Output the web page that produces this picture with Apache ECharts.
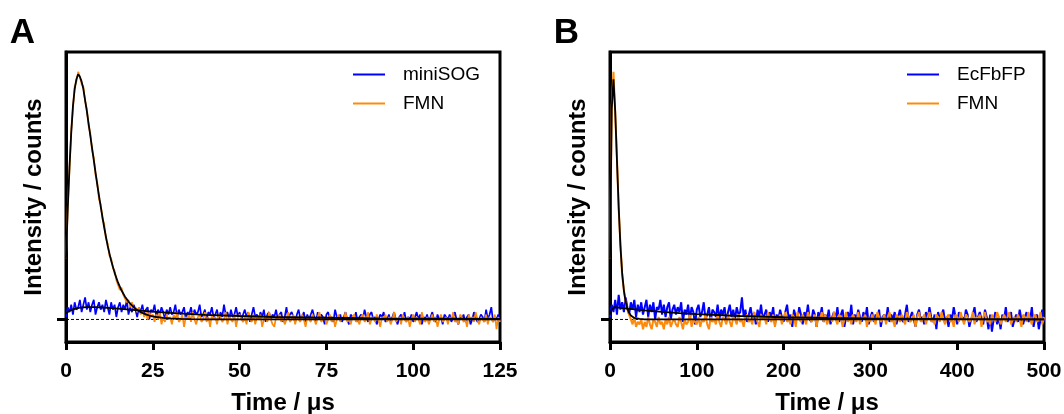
<!DOCTYPE html>
<html>
<head>
<meta charset="utf-8">
<script src="https://cdn.jsdelivr.net/npm/echarts@6/dist/echarts.min.js"></script>
<style>html,body{margin:0;padding:0;background:#fff}#c{width:1064px;height:414px}</style>
</head>
<body>
<div id="c"></div>
<script>
// ---------- DATA ----------
// Panel A sampling (μs)
const stepA = 0.5;
// Panel B sampling (μs)
const stepB = 2;

// Panel A: FMN raw trace (counts, arbitrary units), t = 0 .. 125 μs
const fmnA = [
 25,46,61,77,86,95,97,101,99,96,
 95,89,86,79,76,69,66,59,56,49,
 47,41,39,33,31,26,25,21,20,16,
 16,12,13,10,10,7,8,5,7,4,
 5,3,5,2,4,1,3,0,3,1,
 2,-1,2,0,3,-2,1,-1,2,0,
 1,-2,2,0,3,-1,0,2,-3,1,
 0,2,-1,3,0,-2,1,2,-1,0,
 3,-1,1,-3,2,0,1,-2,2,1,
 -1,0,3,-2,1,0,-1,2,-3,1,
 2,0,-1,1,-2,3,0,-1,2,-2,
 1,0,2,-3,0,1,-1,3,0,-2,
 -3,1,0,2,-1,1,-2,0,3,-1,
 0,2,-2,1,0,-1,2,0,-3,1,
 1,-1,2,0,-2,1,3,-1,0,1,
 -2,0,2,-1,1,-3,0,2,-1,1,
 0,3,-1,0,-2,1,2,-1,0,-2,
 1,2,-1,0,3,-2,0,1,-1,2,
 0,-3,1,0,2,-1,1,-2,0,3,
 -1,0,1,-2,2,0,-1,1,-3,0,
 2,-1,1,0,-2,3,0,-1,1,-2,
 0,2,-1,1,-3,0,2,-1,0,1,
 -2,1,0,3,-1,0,-2,2,1,-1,
 0,-3,2,0,1,-1,3,0,-2,1,
 0,-1,2,-2,1,0,-1,2,-4,1,-1
];
// Panel A: miniSOG raw trace
const miniSOG = [
 1,5,3,6,2,7,4,5,8,3,
 6,9,4,7,3,6,8,2,5,7,
 4,6,3,8,5,2,7,4,6,1,
 5,7,3,6,4,8,2,5,3,6,
 4,1,5,3,6,2,4,5,0,4,
 3,6,1,4,2,5,3,0,4,2,
 5,2,3,6,1,4,2,3,5,0,
 3,2,5,1,4,2,3,6,1,2,
 4,0,3,2,5,1,2,4,0,3,
 1,6,2,3,0,4,1,2,5,1,
 3,0,2,4,1,3,-1,2,5,1,
 2,0,3,1,4,-1,2,3,0,2,
 1,4,0,2,3,-1,1,5,0,2,
 3,1,-1,2,4,0,1,3,-1,2,
 0,2,4,1,-1,3,0,2,1,-2,
 2,3,0,1,-1,4,1,0,2,-1,
 1,3,0,-2,2,1,0,3,-1,1,
 2,0,4,1,-1,2,3,0,1,-2,
 0,2,1,3,-1,0,2,-1,1,3,
 0,-2,1,2,0,3,-1,1,0,2,
 -1,1,3,0,2,-2,1,0,2,-1,
 1,3,0,-1,2,0,1,-2,2,1,
 0,2,-1,1,3,0,-2,1,0,2,
 -1,1,2,-2,0,3,1,-1,0,2,
 1,-1,4,0,2,5,-1,1,0,2,-1
];
// Panel A fits
const fitFmnA_t = [0,0.5,1,1.5,2,2.5,3,3.5,4,4.5,5,6,7,8,9,10,11,12,13,14,15,16,17,18,19,20,21,22,23,24,25,26,28,30,33,36,40,50,125];
const fitFmnA_v = [25,45,62,76,87,94,98,100,99,97,94,85,75,65,55,46,37.5,30,24,19,15,11.8,9.3,7.3,5.7,4.4,3.4,2.7,2.1,1.6,1.3,1.0,0.6,0.4,0.2,0.1,0.05,0,0];
const fitMiniA_t = [0,1,2,4,6,8,10,12,15,20,25,30,35,40,50,60,70,80,90,100,110,125];
const fitMiniA_v = [2.5,3.5,4.1,4.8,5,5,4.9,4.7,4.4,3.8,3.2,2.7,2.3,1.9,1.4,1.0,0.8,0.6,0.45,0.35,0.3,0.2];

// Panel B: FMN raw trace, t = 0 .. 500 μs
const fmnB = [
 25,87,101,84,66,45,31,18,12,7,
 4,2,0,-2,1,-3,-1,-2,0,-4,
 -1,-3,1,-2,-4,0,-1,-3,1,-2,
 -1,-4,0,-2,1,-3,-1,0,-2,-3,
 1,-1,-4,0,-2,-1,2,-3,0,-1,
 -2,1,-3,0,-1,2,-2,-4,1,-1,
 0,-2,2,-1,-3,1,0,-2,2,-1,
 -3,1,0,-2,2,-1,0,-3,1,2,
 -1,0,-2,3,1,-1,-3,2,0,1,
 -2,3,0,-1,2,-3,1,0,2,-2,
 1,3,-1,0,-2,2,1,-3,3,0,
 -1,2,0,-2,3,1,-1,0,2,-3,
 1,0,3,-1,2,-2,0,1,-1,3,
 0,-2,2,1,-3,0,3,-1,1,-2,
 2,0,-1,3,-2,1,0,2,-3,1,
 -1,2,0,-2,3,1,-1,0,2,-2,
 1,3,-1,0,-3,2,1,-1,2,0,
 -2,3,1,-1,0,2,-3,1,3,-1,
 0,2,-2,1,3,-1,0,-2,2,1,
 -1,3,0,-2,1,2,-1,0,-3,2,
 1,-1,3,0,-2,2,1,-1,0,3,
 -2,1,0,2,-3,1,3,-1,0,-2,
 2,0,-1,3,1,-2,0,2,-1,1,
 3,-2,0,1,-1,2,0,-3,2,1,
 -1,3,0,-2,1,2,-1,0,3,-2,1
];
// Panel B: EcFbFP raw trace
const ecFbFP = [
 1,6,3,8,2,10,4,7,3,9,
 5,2,7,4,8,1,6,3,7,2,
 5,8,1,6,3,7,0,5,4,8,
 2,6,1,5,7,0,4,6,2,5,
 3,7,-1,4,2,6,0,5,3,-2,
 4,6,1,3,7,0,2,5,-1,4,
 3,1,6,0,4,2,5,-1,3,6,
 1,4,0,5,2,3,9,1,4,-1,
 2,5,0,3,-2,4,1,6,0,2,
 4,-1,3,1,5,-2,2,0,4,1,
 -1,3,6,0,2,-3,4,1,0,5,
 2,-2,3,1,6,0,-1,4,2,-3,
 3,1,5,-1,2,0,4,-2,1,3,
 0,5,-1,2,4,-3,1,3,0,6,
 -2,2,0,4,1,-1,3,0,5,-2,
 1,3,-1,2,0,4,-3,1,2,0,
 5,-1,2,0,3,-2,1,4,0,-1,
 2,6,-1,1,3,0,-3,2,4,0,
 1,-2,3,0,5,1,-1,2,-4,3,
 0,2,4,-1,1,-3,2,0,5,1,
 -2,3,0,1,-1,4,2,-3,0,2,
 5,-1,1,3,0,-2,4,1,-4,2,
 -5,0,3,-2,1,-4,2,0,5,-1,
 1,3,-3,0,2,-1,4,0,-2,1,
 3,-1,0,5,-3,1,2,-4,0,4,-1
];
// Panel B fits
const fitFmnB_t = [0,2,4,6,8,10,12,14,16,18,20,22,24,26,28,30,34,40,60,500];
const fitFmnB_v = [25,86,98,85,65,46,30,19,11.8,7.3,4.4,2.7,1.6,1.0,0.6,0.4,0.2,0.05,0,0];
const fitEcB_t = [0,2,5,10,20,40,60,80,100,150,200,250,300,400,500];
const fitEcB_v = [2,4,5,4.8,4.4,3.7,3.1,2.6,2.2,1.4,0.9,0.6,0.4,0.15,0.05];

// Axis settings / labels
const xTicksA = {min:0, max:125, interval:25};
const xTicksB = {min:0, max:500, interval:100};
const yRange = {min:-9.2, max:109.1};
const panelLabels = ['A','B'];
const xTitle = 'Time / μs';
const yTitle = 'Intensity / counts';

// ---------- BUILD ----------
const FONT = "'Liberation Sans', Arial, Helvetica, sans-serif";
const BLUE = '#0000ff';
const ORANGE = '#ff8a0a';

function trace(vals, step){ return vals.map((v,i)=>[i*step, v]); }
function pairs(ts, vs){ return ts.map((t,i)=>[t, vs[i]]); }

function lineSeries(name, data, color, width, idx, z){
  return {name, type:'line', xAxisIndex:idx, yAxisIndex:idx, data, symbol:'none', showSymbol:false,
    lineStyle:{color, width}, itemStyle:{color}, z, silent:true, animation:false};
}
function zeroLine(idx, xmax){
  return {type:'line', xAxisIndex:idx, yAxisIndex:idx, data:[[0,0],[xmax,0]], symbol:'none',
    lineStyle:{color:'#000', width:1, type:[3,2]}, z:1, silent:true, animation:false};
}
function xAx(idx, ticks){
  return {gridIndex:idx, type:'value', min:ticks.min, max:ticks.max, interval:ticks.interval,
    axisLine:{show:true, onZero:false, lineStyle:{color:'#000', width:3}},
    axisTick:{show:true, inside:false, length:8, lineStyle:{color:'#000', width:3}},
    axisLabel:{fontSize:21, fontWeight:'bold', color:'#000', margin:19, fontFamily:FONT},
    splitLine:{show:false},
    name:xTitle, nameLocation:'middle', nameGap:49,
    nameTextStyle:{fontSize:24, fontWeight:'bold', color:'#000', fontFamily:FONT}};
}
function yAx(idx){
  return {gridIndex:idx, type:'value', min:yRange.min, max:yRange.max,
    axisLine:{show:true, onZero:false, lineStyle:{color:'#000', width:3}},
    axisTick:{show:true, inside:false, length:9, customValues:[0], lineStyle:{color:'#000', width:3}},
    axisLabel:{show:false}, splitLine:{show:false},
    name:yTitle, nameLocation:'middle', nameGap:20,
    nameTextStyle:{fontSize:24, fontWeight:'bold', color:'#000', fontFamily:FONT}};
}
function legend(names, left){
  return {data:names.map(n=>({name:n, icon:'rect'})), orient:'vertical', left, top:65, padding:0,
    itemWidth:32, itemHeight:2, itemGap:10, selectedMode:false,
    textStyle:{fontSize:19, color:'#000', fontFamily:FONT, padding:[0,0,0,13], lineHeight:19}};
}

const chart = echarts.init(document.getElementById('c'), null, {renderer:'canvas', width:1064, height:414});
chart.setOption({
  animation:false,
  backgroundColor:'#fff',
  grid:[
    {left:66, top:52, width:434, height:290, show:true, borderColor:'#000', borderWidth:3, outerBoundsMode:'none', containLabel:false},
    {left:610, top:52, width:434, height:290, show:true, borderColor:'#000', borderWidth:3, outerBoundsMode:'none', containLabel:false}
  ],
  xAxis:[xAx(0, xTicksA), xAx(1, xTicksB)],
  yAxis:[yAx(0), yAx(1)],
  legend:[legend(['miniSOG','FMN'], 353), legend(['EcFbFP','FMN'], 907)],
  graphic:[
    {type:'text', x:22.5, y:33, style:{text:panelLabels[0], fill:'#000', font:'bold 35px '+FONT, textAlign:'center', textVerticalAlign:'middle', verticalAlign:'middle'}},
    {type:'text', x:566.5, y:33, style:{text:panelLabels[1], fill:'#000', font:'bold 35px '+FONT, textAlign:'center', textVerticalAlign:'middle', verticalAlign:'middle'}}
  ],
  series:[
    zeroLine(0, xTicksA.max),
    lineSeries('miniSOG', trace(miniSOG, stepA), BLUE, 1.7, 0, 2),
    lineSeries('FMN', trace(fmnA, stepA), ORANGE, 1.7, 0, 3),
    lineSeries('fitFmnA', pairs(fitFmnA_t, fitFmnA_v), '#000', 1.8, 0, 4),
    lineSeries('fitMiniA', pairs(fitMiniA_t, fitMiniA_v), '#000', 1.8, 0, 4),
    zeroLine(1, xTicksB.max),
    lineSeries('EcFbFP', trace(ecFbFP, stepB), BLUE, 2, 1, 2),
    lineSeries('FMN', trace(fmnB, stepB), ORANGE, 2, 1, 3),
    lineSeries('fitFmnB', pairs(fitFmnB_t, fitFmnB_v), '#000', 1.8, 1, 4),
    lineSeries('fitEcB', pairs(fitEcB_t, fitEcB_v), '#000', 1.8, 1, 4)
  ]
});
</script>
</body>
</html>
